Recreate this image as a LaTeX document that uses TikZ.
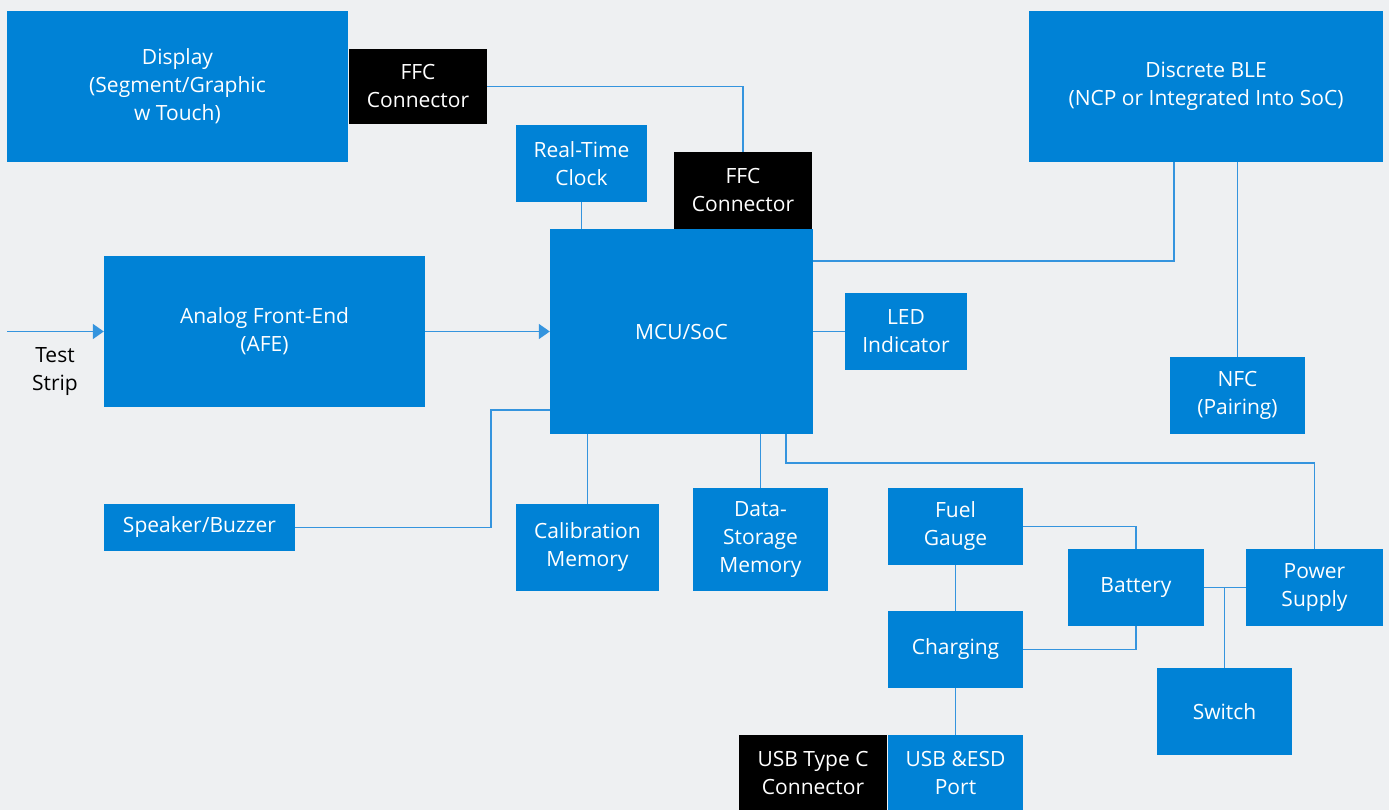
\documentclass[tikz,border=0pt]{standalone}
\usepackage{fontspec}
\setmainfont{Open Sans}
\usetikzlibrary{arrows.meta}
\definecolor{bgc}{RGB}{238,240,242}
\definecolor{boxblue}{RGB}{0,130,214}
\definecolor{wireblue}{RGB}{52,148,222}
\tikzset{
  blk/.style={fill=boxblue,text=white,align=center,inner sep=0pt,font=\fontsize{21}{28}\selectfont},
  ffc/.style={blk,fill=black},
  wire/.style={draw=wireblue,line width=1.6pt},
  feed/.style={wire,-{Triangle[length=11pt,width=15pt]}},
}
\begin{document}
\begin{tikzpicture}[x=1pt,y=-1pt]
% Canvas
\fill[bgc] (0,0) rectangle (1389,810);
\useasboundingbox (0,0) rectangle (1389,810);

% Top row
\node[blk,minimum width=341,minimum height=151] (disp) at (177.5,86.5) {Display\\(Segment/Graphic\\w Touch)};
\node[ffc,minimum width=138,minimum height=75] (ffcA) at (418,86.5) {FFC\\Connector};
\node[blk,minimum width=131,minimum height=77] (rtc) at (581.5,163.5) {Real-Time\\Clock};
\node[ffc,minimum width=138,minimum height=77] (ffcB) at (743,190.5) {FFC\\Connector};
\node[blk,minimum width=354,minimum height=151] (ble) at (1206,86.5) {Discrete BLE\\(NCP or Integrated Into SoC)};

% Middle row
\node[blk,minimum width=321,minimum height=151] (afe) at (264.5,331.5) {Analog Front-End\\(AFE)};
\node[blk,minimum width=263,minimum height=205] (mcu) at (681.5,331.5) {MCU/SoC};
\node[blk,minimum width=122,minimum height=77] (led) at (906,331.5) {LED\\Indicator};
\node[blk,minimum width=135,minimum height=77] (nfc) at (1237.5,395.5) {NFC\\(Pairing)};
\coordinate (strip) at (7,331.5);
\node[font=\fontsize{21}{28}\selectfont,align=center] (striplbl) at (55,372) {Test\\Strip};

% Memories and audio
\node[blk,minimum width=191,minimum height=47] (spk) at (199.5,527.5) {Speaker/Buzzer};
\node[blk,minimum width=143,minimum height=87] (cal) at (587.5,547.5) {Calibration\\Memory};
\node[blk,minimum width=135,minimum height=103] (dsm) at (760.5,539.5) {Data-\\Storage\\Memory};

% Power section
\node[blk,minimum width=135,minimum height=77] (fuel) at (955.5,526.5) {Fuel\\Gauge};
\node[blk,minimum width=136,minimum height=77] (bat) at (1136,587.5) {Battery};
\node[blk,minimum width=137,minimum height=77] (psu) at (1314.5,587.5) {Power\\Supply};
\node[blk,minimum width=135,minimum height=77] (chg) at (955.5,649.5) {Charging};
\node[blk,minimum width=135,minimum height=87] (sw) at (1224.5,711.5) {Switch};
\node[ffc,minimum width=148,minimum height=75] (usbc) at (813,772.5) {USB Type C\\Connector};
\node[blk,minimum width=135,minimum height=75] (esd) at (955.5,772.5) {USB \&ESD\\Port};

% Signal path
\draw[feed] (strip) -- (afe);
\draw[feed] (afe) -- (mcu);

% Links
\draw[wire] (ffcA.east) -| (ffcB.north);
\draw[wire] (rtc.south) -- (rtc.south |- mcu.north);
\draw[wire] ([yshift=-32pt]mcu.north east) -| ([xshift=-32pt]ble.south);
\draw[wire] (nfc.north |- ble.south) -- (nfc.north);
\draw[wire] (mcu) -- (led);
\draw[wire] ([yshift=24pt]mcu.south west) -- ++(-59,0) |- (spk.east);
\draw[wire] (cal.north |- mcu.south) -- (cal.north);
\draw[wire] (dsm.north |- mcu.south) -- (dsm.north);
\draw[wire] ([xshift=-27pt]mcu.south east) -- ++(0,29) -| (psu.north);
\draw[wire] (fuel.east) -| (bat.north);
\draw[wire] (chg.east) -| (bat.south);
\draw[wire] (fuel) -- (chg);
\draw[wire] (chg) -- (esd);
\draw[wire] (bat) -- (psu);
\draw[wire] (sw.north) -- (sw.north |- bat.east);

\end{tikzpicture}
\end{document}
